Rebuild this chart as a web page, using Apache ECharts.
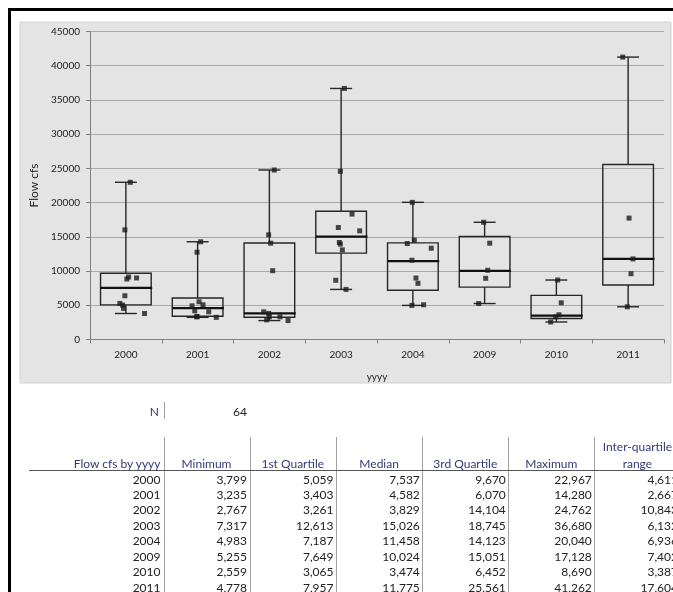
<!DOCTYPE html>
<html>
<head>
<meta charset="utf-8">
<script src="https://cdn.jsdelivr.net/npm/echarts@6/dist/echarts.min.js"></script>
<style>
  html, body { margin:0; padding:0; width:673px; height:592px; overflow:hidden; background:#fff; }
  #chart { position:absolute; left:0; top:0; width:673px; height:592px; }
  #table { position:absolute; left:0; top:0; width:673px; height:592px; overflow:hidden; font-family: Lato, "Open Sans", sans-serif; font-size:12px; }
  .t { position:absolute; white-space:nowrap; line-height:14px; height:14px; }
  .hd { color:#333a78; }
  .dv { color:#222; }
  .vl { position:absolute; width:1px; background:#a0a0a0; }
  .hl { position:absolute; height:1px; background:#555; }
</style>
</head>
<body>
<div id="chart"></div>
<div id="table"></div>
<script>
// ---- data ----
const years = ['2000','2001','2002','2003','2004','2009','2010','2011'];
const minimum = [3799, 3235, 2767, 7317, 4983, 5255, 2559, 4778];
const quartile1 = [5059, 3403, 3261, 12613, 7187, 7649, 3065, 7957];
const median = [7537, 4582, 3829, 15026, 11458, 10024, 3474, 11775];
const quartile3 = [9670, 6070, 14104, 18745, 14123, 15051, 6452, 25561];
const maximum = [22967, 14280, 24762, 36680, 20040, 17128, 8690, 41262];
const iqr = [4611, 2667, 10843, 6132, 6936, 7402, 3387, 17604];
const totalN = 64;

// individual observations: year index, jitter (category units), value
const pointYear = [
  0,0,0,0,0,0,0,0,0,0,
  1,1,1,1,1,1,1,1,1,1,
  2,2,2,2,2,2,2,2,2,2,
  3,3,3,3,3,3,3,3,3,3,
  4,4,4,4,4,4,4,4,4,
  5,5,5,5,5,
  6,6,6,6,6,
  7,7,7,7,7
];
const pointJitter = [
  0.061,-0.014,0.014,0.038,0.149,-0.014,-0.084,-0.046,-0.032,0.26,
  0.043,-0.008,0.02,0.075,-0.078,-0.04,0.155,-0.008,0.26,-0.012,
  0.068,-0.01,0.018,0.046,-0.079,-0.01,0.0,0.148,-0.038,0.26,
  0.045,-0.011,0.152,-0.039,0.259,-0.025,-0.011,0.017,-0.075,0.068,
  -0.008,0.02,-0.078,0.256,-0.013,0.043,0.071,-0.013,0.15,
  -0.013,0.071,0.043,0.015,-0.082,
  0.018,0.068,0.036,-0.01,-0.079,
  -0.075,0.013,0.068,0.04,-0.011
];
const pointValue = [
  22967,16020,8840,9130,8990,6390,5275,5025,4540,3799,
  14280,12750,5510,5070,4920,4190,4045,3370,3235,3300,
  24762,15290,14070,10055,4045,3810,3310,3310,2870,2767,
  36680,24570,18325,16360,15875,14170,13930,13090,8650,7317,
  20040,14510,14020,13340,11580,8980,8210,4983,5070,
  17128,14070,10114,8940,5255,
  8690,5360,3610,3310,2559,
  41262,17740,11775,9615,4778
];
const yTicks = { min: 0, max: 45000, interval: 5000 };

// ---- chart ----
const chart = echarts.init(document.getElementById('chart'), null, { renderer: 'canvas' });
const boxData = years.map((y, i) => [i, minimum[i], quartile1[i], median[i], quartile3[i], maximum[i]]);
const scatterData = pointValue.map((v, k) => [pointYear[k] + pointJitter[k], v]);
const font = 'Lato, "Open Sans", sans-serif';

chart.setOption({
  animation: false,
  backgroundColor: 'transparent',
  graphic: [
    { type: 'rect', z: -10, shape: { x: 20, y: 22, width: 651, height: 361 }, style: { fill: '#e4e4e4', stroke: '#d2d2d2', lineWidth: 1 } },
    { type: 'rect', z: -5, shape: { x: 8, y: 8, width: 665, height: 3 }, style: { fill: '#000' } },
    { type: 'rect', z: -5, shape: { x: 8, y: 8, width: 3, height: 584 }, style: { fill: '#000' } }
  ],
  grid: { left: 90, right: 9, top: 31.5, bottom: 252.5, containLabel: false },
  xAxis: [
    {
      type: 'category', data: years, boundaryGap: true,
      name: 'yyyy', nameLocation: 'middle', nameGap: 32,
      nameTextStyle: { fontFamily: font, fontSize: 10, color: '#222' },
      axisLine: { onZero: false, lineStyle: { color: '#808080', width: 1 } },
      axisTick: { show: true, length: 4, lineStyle: { color: '#808080' } },
      axisLabel: { fontFamily: font, fontSize: 10, color: '#222', margin: 10 },
      splitLine: { show: false }
    },
    { type: 'value', min: -0.5, max: 7.5, show: false }
  ],
  yAxis: {
    type: 'value', min: yTicks.min, max: yTicks.max, interval: yTicks.interval,
    name: 'Flow cfs', nameLocation: 'middle', nameGap: 46, nameRotate: 90,
    nameTextStyle: { fontFamily: font, fontSize: 12, color: '#222' },
    axisLine: { show: true, onZero: false, lineStyle: { color: '#808080', width: 1 } },
    axisTick: { show: true, length: 4, lineStyle: { color: '#808080' } },
    axisLabel: { fontFamily: font, fontSize: 10, color: '#222', margin: 10, formatter: v => String(v) },
    splitLine: { show: true, lineStyle: { color: '#a8a8a8', width: 1.2 } }
  },
  series: [
    {
      type: 'custom', xAxisIndex: 0, yAxisIndex: 0, data: boxData, z: 2,
      encode: { x: 0, y: [1, 2, 3, 4, 5] },
      renderItem: function (params, api) {
        const i = api.value(0);
        const pMin = api.coord([i, api.value(1)]);
        const pQ1 = api.coord([i, api.value(2)]);
        const pMed = api.coord([i, api.value(3)]);
        const pQ3 = api.coord([i, api.value(4)]);
        const pMax = api.coord([i, api.value(5)]);
        const bw = api.size([1, 0])[0];
        const half = bw * 0.353, cap = bw * 0.153;
        const x = pMed[0];
        const st = { stroke: '#262626', lineWidth: 1.4, fill: null };
        return {
          type: 'group',
          children: [
            { type: 'line', shape: { x1: x, y1: pQ3[1], x2: x, y2: pMax[1] }, style: st },
            { type: 'line', shape: { x1: x, y1: pQ1[1], x2: x, y2: pMin[1] }, style: st },
            { type: 'line', shape: { x1: x - cap, y1: pMax[1], x2: x + cap, y2: pMax[1] }, style: st },
            { type: 'line', shape: { x1: x - cap, y1: pMin[1], x2: x + cap, y2: pMin[1] }, style: st },
            { type: 'rect', shape: { x: x - half, y: pQ3[1], width: 2 * half, height: pQ1[1] - pQ3[1] }, style: { stroke: '#262626', lineWidth: 1.4, fill: 'rgba(0,0,0,0)' } },
            { type: 'line', shape: { x1: x - half, y1: pMed[1], x2: x + half + 1, y2: pMed[1] }, style: { stroke: '#111', lineWidth: 2.2 } }
          ]
        };
      }
    },
    {
      type: 'scatter', xAxisIndex: 1, yAxisIndex: 0, data: scatterData, z: 5,
      symbol: 'rect', symbolSize: 5,
      itemStyle: { color: '#1c1c1c' }
    }
  ]
});

// ---- table ----
const tbl = document.getElementById('table');
function addText(txt, cls, x, y, align) {
  const d = document.createElement('div');
  d.className = 't ' + cls;
  d.textContent = txt;
  if (align === 'right') { d.style.right = (673 - x) + 'px'; d.style.textAlign = 'right'; }
  else if (align === 'center') { d.style.left = (x - 60) + 'px'; d.style.width = '120px'; d.style.textAlign = 'center'; }
  else { d.style.left = x + 'px'; }
  d.style.top = (y - 7) + 'px';
  tbl.appendChild(d);
}
function addV(x, y1, y2) {
  const d = document.createElement('div');
  d.className = 'vl';
  d.style.left = x + 'px'; d.style.top = y1 + 'px'; d.style.height = (y2 - y1) + 'px';
  tbl.appendChild(d);
}
function addH(x1, x2, y) {
  const d = document.createElement('div');
  d.className = 'hl';
  d.style.left = x1 + 'px'; d.style.top = y + 'px'; d.style.width = (x2 - x1) + 'px';
  tbl.appendChild(d);
}
const fmt = v => v.toLocaleString('en-US');

addText('N', 'hd', 159, 411.5, 'right');
addV(163.5, 402, 419);
addText(String(totalN), 'dv', 247, 411.5, 'right');

const colEdges = [163.5, 249.5, 336, 422.3, 508.3, 594.3, 680.5];
const headers = ['Minimum', '1st Quartile', 'Median', '3rd Quartile', 'Maximum', 'range'];
const columns = [minimum, quartile1, median, quartile3, maximum, iqr];
addText('Flow cfs by yyyy', 'hd', 160.5, 463.5, 'right');
for (let c = 0; c < 6; c++) {
  const cx = (colEdges[c] + colEdges[c + 1]) / 2;
  addText(headers[c], 'hd', cx, 463.5, 'center');
}
addText('Inter-quartile', 'hd', (colEdges[5] + colEdges[6]) / 2, 447, 'center');
for (let c = 0; c < 6; c++) addV(colEdges[c], 437, 592);
addH(29, 673, 470);
for (let r = 0; r < years.length; r++) {
  const cy = 479.5 + r * 15.47;
  addText(years[r], 'dv', 160.5, cy, 'right');
  for (let c = 0; c < 6; c++) addText(fmt(columns[c][r]), 'dv', colEdges[c + 1] - 2.5, cy, 'right');
}
</script>
</body>
</html>
